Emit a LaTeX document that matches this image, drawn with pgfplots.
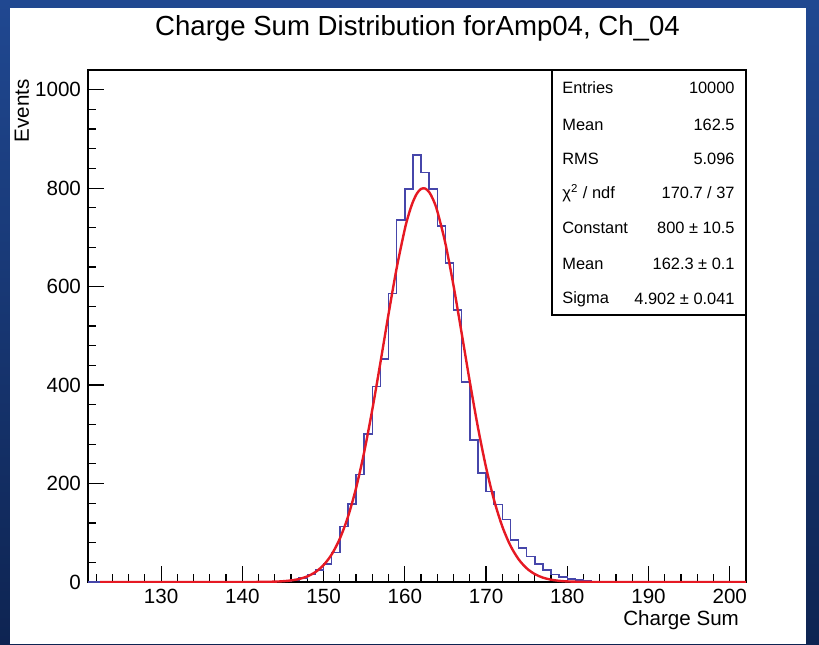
\documentclass[border=0pt]{standalone}
\usepackage{pgfplots}
\pgfplotsset{compat=1.18}
\usepackage{fontspec}
\setmainfont{Liberation Sans}
\definecolor{histblue}{RGB}{70,70,170}
\definecolor{fitred}{RGB}{230,25,35}
\definecolor{bgtop}{RGB}{32,72,145}
\definecolor{bgbot}{RGB}{14,36,82}
\begin{document}
\begin{tikzpicture}
\shade[top color=bgtop, bottom color=bgbot] (0,0) rectangle (409.5pt,322pt);
\fill[white] (5pt,0) rectangle (403pt,318pt);
\node[font=\fontsize{13.8}{16}\selectfont] at (208.75pt,308pt) {Charge Sum Distribution forAmp04, Ch\_04};
\begin{axis}[
 at={(44pt,31pt)}, anchor=south west, scale only axis, width=329pt, height=256pt,
 xmin=121, xmax=202, ymin=0, ymax=1040,
 xtick={130,140,...,200}, minor xtick={122,124,...,202},
 ytick={0,200,...,1000}, minor ytick={40,80,...,1040},
 tick align=inside, tick pos=left,
 major tick length=8pt, minor tick length=4pt,
 tick style={black, line width=0.6pt},
 axis line style={line width=0.6pt},
 ticklabel style={font=\fontsize{10.3}{12}\selectfont},
 /pgf/number format/assume math mode=true,
 /pgf/number format/1000 sep={},
]
\addplot[const plot, histblue, line width=0.75pt] coordinates {
(121,0) (144,1) (145,2) (146,4) (147,8) (148,15) (149,24) (150,37) (151,60) (152,113)
(153,158) (154,218) (155,301) (156,397) (157,453) (158,586) (159,735) (160,798) (161,867)
(162,832) (163,798) (164,723) (165,648) (166,553) (167,406) (168,288) (169,221) (170,184)
(171,157) (172,127) (173,85) (174,69) (175,52) (176,37) (177,24) (178,15) (179,10) (180,6)
(181,4) (182,2) (183,1) (184,0) (202,0)};
\addplot[smooth, fitred, line width=1.2pt] coordinates {
(122.5,0) (130,0) (140,0.03) (142,0.15) (144,0.75) (145,1.6) (146,3.2) (147,6.1) (148,11.4)
(149,20.2) (150,34.4) (151,56.1) (152,88.0) (153,132.3) (154,190.8) (155,263.9) (156,350.3)
(157,445.9) (158,544.5) (159,637.8) (160,716.7) (160.5,747.8) (161,772.3) (161.5,789.4)
(162,798.5) (162.5,799.3) (163,791.9) (163.5,776.4) (164,753.3) (165,687.5) (166,601.7)
(167,505.2) (168,406.9) (169,314.4) (170,233.0) (171,165.6) (172,112.9) (173,73.9)
(174,46.4) (175,27.9) (176,16.1) (177,8.9) (178,4.7) (179,2.4) (180,1.2) (182,0.25)
(185,0.02) (190,0) (202,0)};
\end{axis}
\node[rotate=90, anchor=east, font=\fontsize{10.3}{12}\selectfont] at (11pt,286pt) {Events};
\node[anchor=east, font=\fontsize{10.3}{12}\selectfont] at (373pt,12pt) {Charge Sum};
\draw[fill=white, line width=0.6pt] (276pt,287pt) rectangle (373pt,164.5pt);
\begin{scope}[every node/.style={font=\fontsize{8.2}{10}\selectfont, inner sep=0pt}]
\node[anchor=west] at (281pt,278pt) {Entries};
\node[anchor=east] at (367.5pt,278pt) {10000};
\node[anchor=west] at (281pt,259.5pt) {Mean};
\node[anchor=east] at (367.5pt,259.5pt) {162.5};
\node[anchor=west] at (281pt,242.5pt) {RMS};
\node[anchor=east] at (367.5pt,242.5pt) {5.096};
\node[anchor=west] at (281pt,225.5pt) {χ\textsuperscript{2} / ndf};
\node[anchor=east] at (367.5pt,225.5pt) {170.7 / 37};
\node[anchor=west] at (281pt,208pt) {Constant};
\node[anchor=east] at (367.5pt,208pt) {800 ± 10.5};
\node[anchor=west] at (281pt,190pt) {Mean};
\node[anchor=east] at (367.5pt,190pt) {162.3 ± 0.1};
\node[anchor=west] at (281pt,172.5pt) {Sigma};
\node[anchor=east] at (367.5pt,172.5pt) {4.902 ± 0.041};
\end{scope}
\end{tikzpicture}
\end{document}
